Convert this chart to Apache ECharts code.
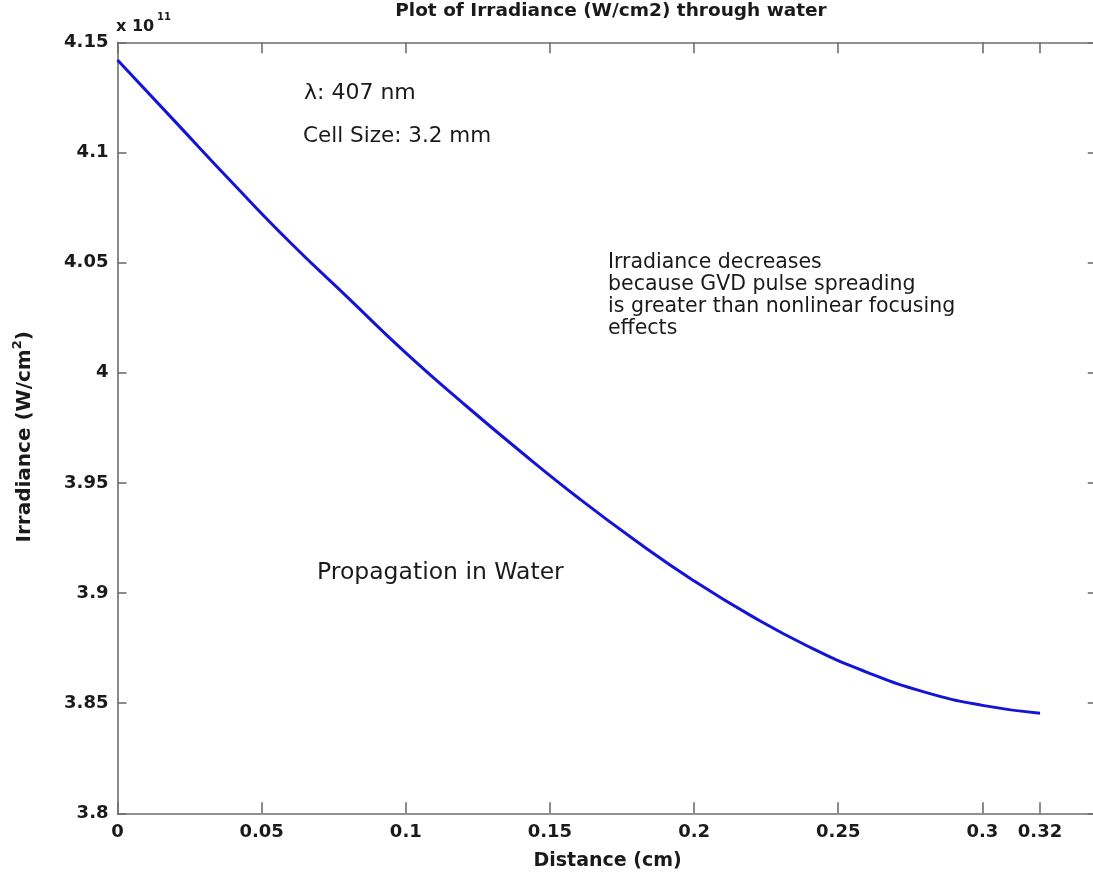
<!DOCTYPE html>
<html>
<head>
<meta charset="utf-8">
<title>Plot of Irradiance (W/cm2) through water</title>
<script src="https://cdn.jsdelivr.net/npm/echarts@6/dist/echarts.min.js"></script>
<style>
  html, body { margin: 0; padding: 0; background: #ffffff; }
  #chart { width: 1093px; height: 880px; }
</style>
</head>
<body>
<div id="chart"></div>
<script>
// Propagation distance through the water cell (cm)
const distance = [0, 0.02, 0.04, 0.06, 0.08, 0.10, 0.12, 0.14, 0.16, 0.18, 0.20, 0.22, 0.24, 0.26, 0.28, 0.30, 0.32];
// Peak irradiance, in units of 1e11 W/cm^2
const irradiance = [4.142, 4.114, 4.086, 4.059, 4.034, 4.009, 3.986, 3.964, 3.943, 3.9235, 3.9055, 3.8895, 3.8755, 3.864, 3.855, 3.849, 3.8454];
// Tick positions
const xTicks = [0, 0.05, 0.1, 0.15, 0.2, 0.25, 0.3, 0.32];
const yTicks = [3.8, 3.85, 3.9, 3.95, 4, 4.05, 4.1, 4.15];

const FONT = 'DejaVu Sans';
const AXIS_GRAY = '#6e6e6e';
const TEXT = '#1a1a1a';

const points = distance.map((d, i) => [d, irradiance[i]]);

const chart = echarts.init(document.getElementById('chart'), null, { renderer: 'canvas' });

const tickLabel = { fontFamily: FONT, fontWeight: 'bold', fontSize: 18, color: TEXT };

chart.setOption({
  animation: false,
  backgroundColor: '#ffffff',
  grid: { left: 117.5, top: 42.3, width: 980.2, height: 771, containLabel: false, outerBoundsMode: 'none' },
  xAxis: [
    {
      type: 'value', position: 'bottom', min: 0, max: 0.34,
      axisLine: { show: true, onZero: false, lineStyle: { color: AXIS_GRAY, width: 1.6 } },
      axisTick: { show: true, inside: true, length: 11, customValues: xTicks, lineStyle: { color: AXIS_GRAY, width: 1.6 } },
      axisLabel: Object.assign({ customValues: xTicks, margin: 10 }, tickLabel),
      splitLine: { show: false },
      name: 'Distance (cm)', nameLocation: 'middle', nameGap: 38,
      nameTextStyle: { fontFamily: FONT, fontWeight: 'bold', fontSize: 19, color: TEXT }
    },
    {
      type: 'value', position: 'top', min: 0, max: 0.34,
      axisLine: { show: true, onZero: false, lineStyle: { color: AXIS_GRAY, width: 1.6 } },
      axisTick: { show: true, inside: true, length: 11, customValues: xTicks, lineStyle: { color: AXIS_GRAY, width: 1.6 } },
      axisLabel: { show: false },
      splitLine: { show: false }
    }
  ],
  yAxis: [
    {
      type: 'value', position: 'left', min: 3.8, max: 4.15,
      axisLine: { show: true, onZero: false, lineStyle: { color: AXIS_GRAY, width: 1.6 } },
      axisTick: { show: true, inside: true, length: 9, customValues: yTicks, lineStyle: { color: AXIS_GRAY, width: 1.6 } },
      axisLabel: Object.assign({ customValues: yTicks, margin: 9 }, tickLabel),
      splitLine: { show: false },
      name: '{n|Irradiance (W/cm}{s|2}{n|)}', nameLocation: 'middle', nameGap: 80, nameRotate: 90,
      nameTextStyle: {
        padding: [0, 18, 0, 0],
        rich: {
          n: { fontFamily: FONT, fontWeight: 'bold', fontSize: 20, color: TEXT, lineHeight: 26 },
          s: { fontFamily: FONT, fontWeight: 'bold', fontSize: 13, color: TEXT, verticalAlign: 'top', lineHeight: 26 }
        }
      }
    },
    {
      type: 'value', position: 'right', min: 3.8, max: 4.15,
      axisLine: { show: true, onZero: false, lineStyle: { color: AXIS_GRAY, width: 1.6 } },
      axisTick: { show: true, inside: true, length: 10, customValues: yTicks, lineStyle: { color: AXIS_GRAY, width: 1.6 } },
      axisLabel: { show: false },
      splitLine: { show: false }
    }
  ],
  series: [
    {
      type: 'line', xAxisIndex: 0, yAxisIndex: 0,
      data: points, smooth: 0.5, symbol: 'none', silent: true,
      lineStyle: { color: '#1414d8', width: 3 }
    }
  ],
  graphic: [
    {
      type: 'text', x: 611, y: 11,
      style: { text: 'Plot of Irradiance (W/cm2) through water', fontFamily: FONT, fontWeight: 'bold', fontSize: 18.5,
               fill: TEXT, align: 'center', verticalAlign: 'middle' }
    },
    {
      type: 'text', x: 116, y: 27,
      style: { text: 'x 10', fontFamily: FONT, fontWeight: 'bold', fontSize: 16, fill: TEXT, align: 'left', verticalAlign: 'middle' }
    },
    {
      type: 'text', x: 157, y: 17,
      style: { text: '11', fontFamily: FONT, fontWeight: 'bold', fontSize: 10, fill: TEXT, align: 'left', verticalAlign: 'middle' }
    },
    {
      type: 'text', x: 304, y: 93,
      style: { text: 'λ: 407 nm', fontFamily: FONT, fontSize: 22, fill: TEXT, align: 'left', verticalAlign: 'middle' }
    },
    {
      type: 'text', x: 303, y: 136,
      style: { text: 'Cell Size: 3.2 mm', fontFamily: FONT, fontSize: 21.5, fill: TEXT, align: 'left', verticalAlign: 'middle' }
    },
    {
      type: 'text', x: 608, y: 252,
      style: { text: 'Irradiance decreases\nbecause GVD pulse spreading\nis greater than nonlinear focusing\neffects',
               fontFamily: FONT, fontSize: 20.5, lineHeight: 22, fill: TEXT, align: 'left', verticalAlign: 'top' }
    },
    {
      type: 'text', x: 317, y: 573,
      style: { text: 'Propagation in Water', fontFamily: FONT, fontSize: 23.5, fill: TEXT, align: 'left', verticalAlign: 'middle' }
    }
  ]
});
</script>
</body>
</html>
